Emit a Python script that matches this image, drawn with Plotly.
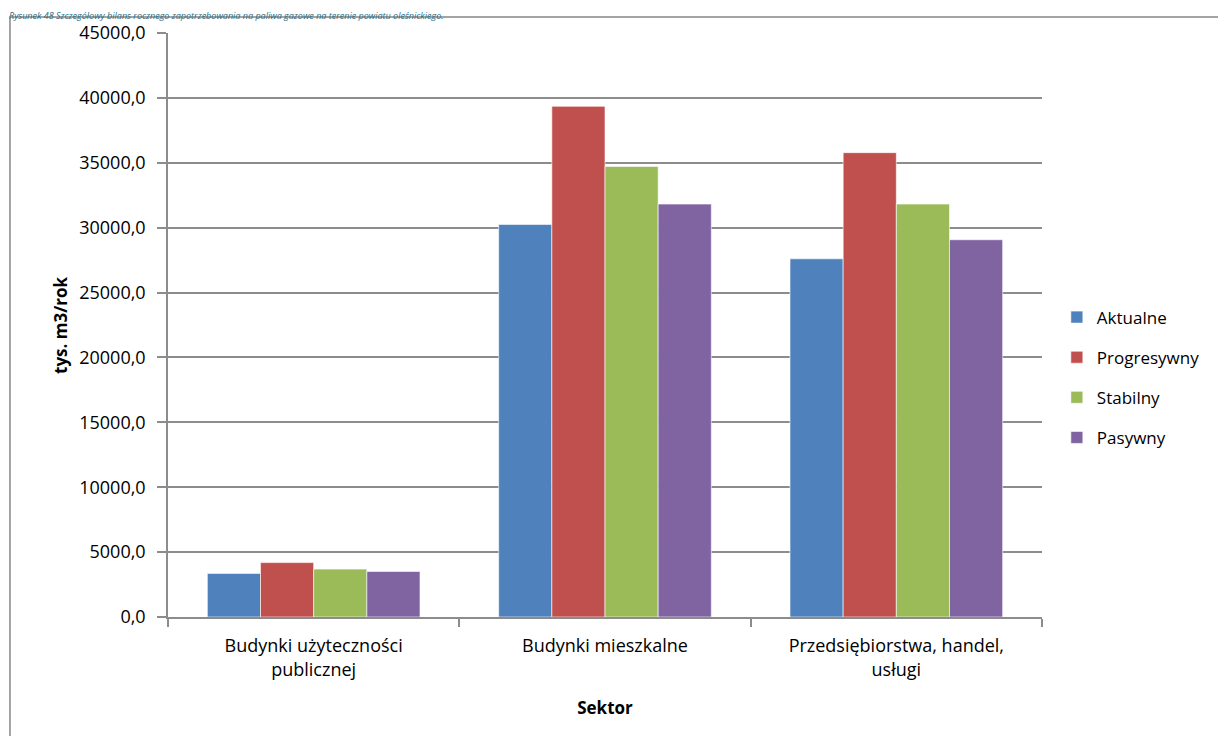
import plotly.graph_objects as go

# sectors (x categories)
sektory = ["Budynki użyteczności<br>publicznej", "Budynki mieszkalne",
           "Przedsiębiorstwa, handel,<br>usługi"]

# scenario values, tys. m3/rok
aktualne = [3360, 30250, 27600]
progresywny = [4190, 39350, 35780]
stabilny = [3690, 34720, 31820]
pasywny = [3510, 31820, 29070]

y_ticks = [0, 5000, 10000, 15000, 20000, 25000, 30000, 35000, 40000, 45000]

font_name = "Open Sans, Noto Sans, sans-serif"
series = [
  ("Aktualne", aktualne, "#4F81BD"),
  ("Progresywny", progresywny, "#C0504D"),
  ("Stabilny", stabilny, "#9BBB59"),
  ("Pasywny", pasywny, "#8064A2"),
]

fig = go.Figure()
for name, vals, col in series:
  fig.add_trace(go.Bar(
    name=name, x=sektory, y=vals, legendgroup=name,
    marker=dict(color=col, line=dict(color="rgba(255,255,255,0.6)", width=1)),
  ))

# page has an 8px body margin, so the figure is a bit smaller than the window
fig.update_layout(
  width=1210, height=728,
  margin=dict(l=160, r=176, t=25, b=119, autoexpand=False),
  paper_bgcolor="white", plot_bgcolor="white",
  barmode="group", bargap=0.27, bargroupgap=0,
  separators=",.",
  font=dict(family=font_name, size=18, color="#000000"),
  legend=dict(
    x=1.017, y=0.41, xanchor="left", yanchor="middle",
    traceorder="grouped", tracegroupgap=15,
    font=dict(size=17), itemwidth=30,
  ),
  showlegend=True,
)

fig.update_yaxes(
  range=[0, 45000], tickvals=y_ticks, tickformat=".1f",
  showgrid=True, gridcolor="#8C8C8C", gridwidth=1.5,
  showline=True, linecolor="#8C8C8C", linewidth=1.5,
  ticks="outside", ticklen=9, tickcolor="#8C8C8C", tickwidth=1.5,
  ticklabelstandoff=8,
  zeroline=False,
)
fig.update_xaxes(
  showline=True, linecolor="#8C8C8C", linewidth=1.5,
  ticks="outside", tickson="boundaries", ticklen=8, tickcolor="#8C8C8C", tickwidth=1.5,
  ticklabelstandoff=12,
  title=dict(text="<b>Sektor</b>", font=dict(size=17), standoff=22),
)

# y axis title placed by hand
fig.add_annotation(
  xref="paper", yref="paper", x=-0.1236, y=0.5, xanchor="center", yanchor="middle",
  textangle=-90, text="<b>tys. m3/rok</b>", showarrow=False, font=dict(size=17),
)

# outer chart frame, running off the right and bottom of the window
fig.add_shape(type="rect", xref="paper", yref="paper",
              x0=-0.1808, x1=1.4, y0=-0.4, y1=1.0274,
              line=dict(color="#868686", width=1.5), layer="below")

# figure caption above the frame
fig.add_annotation(
  xref="paper", yref="paper", x=-0.183, y=1.0428, xanchor="left", yanchor="top",
  text="<i>Rysunek 48 Szczegółowy bilans rocznego zapotrzebowania na paliwa gazowe na terenie powiatu oleśnickiego.</i>",
  showarrow=False, borderpad=0, font=dict(size=9, color="#2E6E83"),
)

fig.write_html("out.html")
